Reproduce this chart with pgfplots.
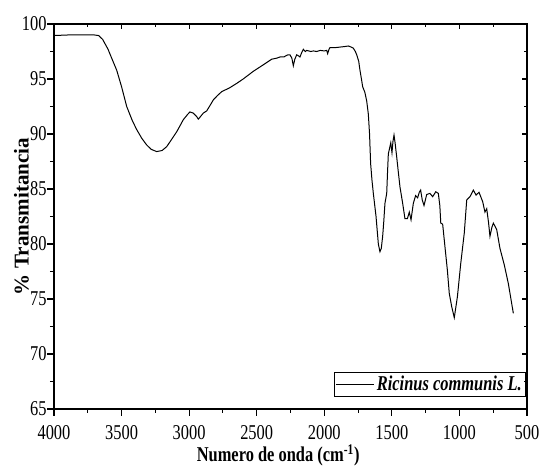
\documentclass[border=0pt]{standalone}
\usepackage{pgfplots}
\pgfplotsset{compat=1.18}
\usepackage{fontspec}
\setmainfont{Liberation Serif}[FakeStretch=0.78]
\newfontfamily\ylabfont{Liberation Serif}
\begin{document}
\begin{tikzpicture}
\useasboundingbox (0,0) rectangle (405pt,349.5pt);
\begin{axis}[
  at={(40.5pt,42.75pt)}, anchor=south west,
  scale only axis, width=354.75pt, height=288.75pt,
  x dir=reverse, xmin=500, xmax=4000, ymin=65, ymax=100,
  xtick={500,1000,...,4000}, ytick={65,70,...,100},
  minor x tick num=1, minor y tick num=1,
  xtick pos=left, ytick pos=left, tick align=outside,
  major tick length=5pt, minor tick length=3pt,
  axis line style={line width=1pt},
  every tick/.style={black, line width=0.8pt},
  font=\fontsize{15.8}{18}\selectfont,
  /pgf/number format/assume math mode=true,
  /pgf/number format/1000 sep={},
  xticklabel style={yshift=-4pt},
  yticklabel style={xshift=3pt},
  xlabel={\bfseries Numero de onda (cm\textsuperscript{-1})},
  ylabel={\ylabfont\bfseries \% Transmitancia},
  xlabel style={at={(axis description cs:0.474,-0.12)}, anchor=center},
  ylabel style={at={(axis description cs:-0.069,0.5)}, anchor=center},
  legend style={at={(0.998,0.031)}, anchor=south east, draw=black, line width=0.6pt,
    font=\fontsize{15.8}{18}\selectfont\bfseries\itshape, inner sep=1pt},
  legend image code/.code={\draw[#1] (0cm,0cm) -- (1cm,0cm);},
]
\addplot[black, line width=0.75pt] coordinates {
(4000,98.95) (3900,99.0) (3800,99.0) (3700,99.0) (3670,98.95) (3640,98.6)
(3600,97.7) (3570,96.8) (3536,95.8) (3500,94.3) (3462,92.5) (3420,91.2)
(3388,90.4) (3350,89.6) (3314,89.0) (3280,88.6) (3240,88.4) (3200,88.5)
(3166,88.85) (3130,89.5) (3092,90.2) (3043,91.3) (3010,91.8) (2994,92.0)
(2970,91.9) (2945,91.6) (2932,91.35) (2915,91.6) (2895,91.9) (2870,92.1)
(2845,92.6) (2821,93.1) (2790,93.5) (2759,93.85) (2700,94.2) (2648,94.6)
(2600,95.0) (2525,95.7) (2450,96.3) (2389,96.8) (2350,96.9) (2328,97.0)
(2300,97.0) (2270,97.2) (2254,97.2) (2240,96.9) (2229,96.2) (2218,96.8)
(2204,97.2) (2190,97.1) (2180,97.0) (2167,97.4) (2155,97.7) (2140,97.5)
(2130,97.6) (2100,97.5) (2080,97.55) (2056,97.5) (2030,97.6) (2000,97.55)
(1982,97.6) (1975,97.3) (1965,97.7) (1958,97.85) (1920,97.85) (1884,97.9)
(1850,97.95) (1822,98.0) (1800,97.9) (1785,97.8) (1770,97.5) (1760,97.2)
(1745,96.6) (1736,95.8) (1725,95.0) (1716,94.3) (1700,93.8) (1686,93.0)
(1674,91.8) (1665,90.0) (1657,87.3) (1647,85.8) (1637,84.6) (1617,82.5)
(1600,80.0) (1588,79.3) (1578,79.6) (1568,80.7) (1560,82.0) (1551,83.7)
(1538,84.6) (1532,86.5) (1526,88.2) (1515,88.8) (1508,89.2) (1499,88.3)
(1492,89.3) (1484,89.9) (1476,89.2) (1464,87.9) (1450,86.3) (1440,85.2)
(1420,83.7) (1403,82.3) (1385,82.3) (1371,82.9) (1358,82.2) (1341,83.7)
(1324,84.4) (1309,84.2) (1297,84.7) (1287,84.9) (1275,84.0) (1262,83.5)
(1242,84.5) (1218,84.6) (1198,84.3) (1175,84.75) (1156,84.6) (1145,83.5)
(1138,81.9) (1124,81.8) (1107,79.75) (1089,77.6) (1075,75.5) (1057,74.3)
(1038,73.3) (1015,75.2) (990,78.25) (964,81.0) (946,84.0) (922,84.3)
(897,84.9) (877,84.45) (855,84.7) (828,83.85) (811,82.9) (798,83.2)
(785,82.0) (774,80.7) (760,81.5) (749,81.9) (724,81.3) (700,79.6)
(668,78.1) (638,76.4) (601,73.7)
};
\addlegendentry{Ricinus communis L.}
\end{axis}
\begin{axis}[
  at={(40.5pt,42.75pt)}, anchor=south west,
  scale only axis, width=354.75pt, height=288.75pt,
  x dir=reverse, xmin=500, xmax=4000, ymin=65, ymax=100,
  xtick={500,1000,...,4000}, ytick={65,70,...,100},
  minor x tick num=1, minor y tick num=1,
  xtick pos=right, ytick pos=right, tick align=inside,
  major tick length=4pt, minor tick length=2.5pt,
  xticklabels={}, yticklabels={},
  axis line style={line width=1pt},
  every tick/.style={black, line width=0.8pt},
]
\end{axis}
\end{tikzpicture}
\end{document}
